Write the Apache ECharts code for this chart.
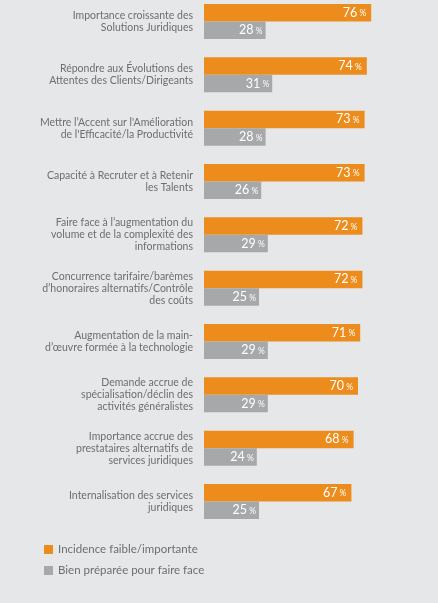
<!DOCTYPE html>
<html><head><meta charset="utf-8">
<script src="https://cdn.jsdelivr.net/npm/echarts@6/dist/echarts.min.js"></script>
<style>html,body{margin:0;padding:0;background:#e6e7e8;overflow:hidden;}#c{position:absolute;left:0;top:-6px;width:438px;height:609px;}</style>
</head><body><div id="c"></div>
<script>
const categories = [
  "Importance croissante des\nSolutions Juridiques",
  "Répondre aux Évolutions des\nAttentes des Clients/Dirigeants",
  "Mettre l’Accent sur l'Amélioration\nde l'Efficacité/la Productivité",
  "Capacité à Recruter et à Retenir\nles Talents",
  "Faire face à l’augmentation du\nvolume et de la complexité des\ninformations",
  "Concurrence tarifaire/barèmes\nd’honoraires alternatifs/Contrôle\ndes coûts",
  "Augmentation de la main-\nd’œuvre formée à la technologie",
  "Demande accrue de\nspécialisation/déclin des\nactivités généralistes",
  "Importance accrue des\nprestataires alternatifs de\nservices juridiques",
  "Internalisation des services\njuridiques"
];
const impactValues = [76, 74, 73, 73, 72, 72, 71, 70, 68, 67];
const preparedValues = [28, 31, 28, 26, 29, 25, 29, 29, 24, 25];
const seriesNames = ["Incidence faible/importante", "Bien préparée pour faire face"];

const font = "Lato";
const chart = echarts.init(document.getElementById('c'), null, {renderer: 'canvas'});
const valLabel = (dist) => ({
  show: true, position: 'insideRight', distance: dist,
  formatter: p => '{n|' + p.value + '}{p| %}',
  rich: {
    n: {color: '#ffffff', fontSize: 12.5, fontFamily: font},
    p: {color: '#ffffff', fontSize: 8.5, fontFamily: font, padding: [2, 0, 0, 0]}
  }
});
chart.setOption({
  backgroundColor: '#e6e7e8',
  animation: false,
  legend: {
    orient: 'vertical', left: 44, top: 549.5, padding: 0,
    itemWidth: 9, itemHeight: 9, itemGap: 9,
    icon: 'rect',
    textStyle: {color: '#6d6e71', fontSize: 11.5, fontFamily: font},
    data: seriesNames
  },
  grid: {left: 204, top: 0.83, width: 220, height: 533.33, containLabel: false},
  xAxis: {type: 'value', min: 0, max: 100, show: false},
  yAxis: {
    type: 'category', inverse: true, data: categories,
    axisLine: {show: false}, axisTick: {show: false},
    axisLabel: {
      color: '#6d6e71', fontSize: 10.5, fontFamily: font, lineHeight: 12,
      margin: 11, align: 'right'
    }
  },
  series: [
    {name: seriesNames[0], type: 'bar', data: impactValues, barWidth: 17.5, barGap: '0%',
     itemStyle: {color: '#ec8c1c'}, label: valLabel(5)},
    {name: seriesNames[1], type: 'bar', data: preparedValues, barWidth: 17.5, barGap: '0%',
     itemStyle: {color: '#a7a8aa'}, label: valLabel(3)}
  ]
});
</script></body></html>
